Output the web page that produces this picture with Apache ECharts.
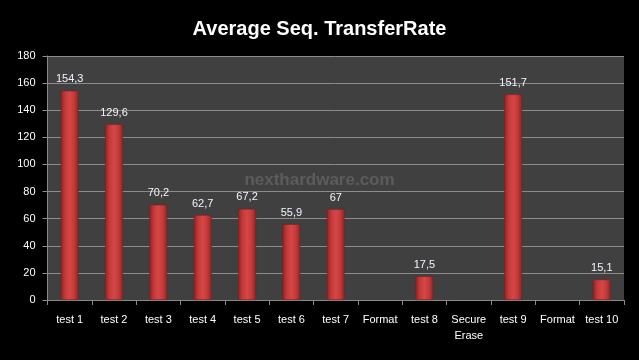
<!DOCTYPE html>
<html><head><meta charset="utf-8">
<script src="https://cdn.jsdelivr.net/npm/echarts@6/dist/echarts.min.js"></script>
<style>html,body{margin:0;padding:0;background:#000;}#c{width:639px;height:360px;}</style>
</head><body><div id="c"></div>
<script>
const titleText = 'Average Seq. TransferRate';
const categories = ['test 1','test 2','test 3','test 4','test 5','test 6','test 7','Format','test 8','Secure\nErase','test 9','Format','test 10'];
const values = [154.3,129.6,70.2,62.7,67.2,55.9,67,null,17.5,null,151.7,null,15.1];
const yTicks = [0,20,40,60,80,100,120,140,160,180];

const chart = echarts.init(document.getElementById('c'));
const font = 'Liberation Sans';
chart.setOption({
  backgroundColor: '#000',
  animation: false,
  title: {
    text: titleText, left: 'center', top: 14,
    textStyle: {color: '#fff', fontSize: 20, fontWeight: 'bold', fontFamily: font}
  },
  graphic: [{
    type: 'text', left: 'center', top: 172, z: 0,
    style: {text: 'nexthardware.com', fill: '#5c5c5c', font: 'bold 17px ' + font}
  }],
  grid: {left: 47.5, right: 15, top: 56, bottom: 60, show: true, backgroundColor: '#404040', borderWidth: 0},
  xAxis: {
    type: 'category', data: categories, boundaryGap: true,
    axisLine: {lineStyle: {color: '#8a8a8a', width: 1}},
    axisTick: {show: true, length: 5, lineStyle: {color: '#8a8a8a'}, alignWithLabel: false},
    axisLabel: {color: '#fff', fontSize: 11, fontFamily: font, margin: 12, interval: 0, lineHeight: 16}
  },
  yAxis: {
    type: 'value', min: 0, max: yTicks[yTicks.length-1], interval: yTicks[1]-yTicks[0],
    axisLine: {show: true, lineStyle: {color: '#8a8a8a'}},
    axisTick: {show: true, length: 5, lineStyle: {color: '#8a8a8a'}},
    splitLine: {lineStyle: {color: '#8c8c8c', width: 1}},
    axisLabel: {color: '#fff', fontSize: 11, fontFamily: font, margin: 12}
  },
  series: [{
    type: 'bar', data: values, barWidth: '40%', z: 2,
    itemStyle: {
      color: new echarts.graphic.LinearGradient(0, 0, 1, 0, [
        {offset: 0, color: '#8e2424'},
        {offset: 0.25, color: '#c43a3a'},
        {offset: 0.5, color: '#d64646'},
        {offset: 0.75, color: '#c43a3a'},
        {offset: 1, color: '#8e2424'}
      ]),
      borderColor: '#7a1c1c', borderWidth: 0.5
    },
    label: {
      show: true, position: 'top', distance: 6, color: '#f4f4ff', fontSize: 11, fontFamily: font,
      formatter: p => p.value == null ? '' : String(p.value).replace('.', ',')
    }
  }]
});
</script></body></html>
